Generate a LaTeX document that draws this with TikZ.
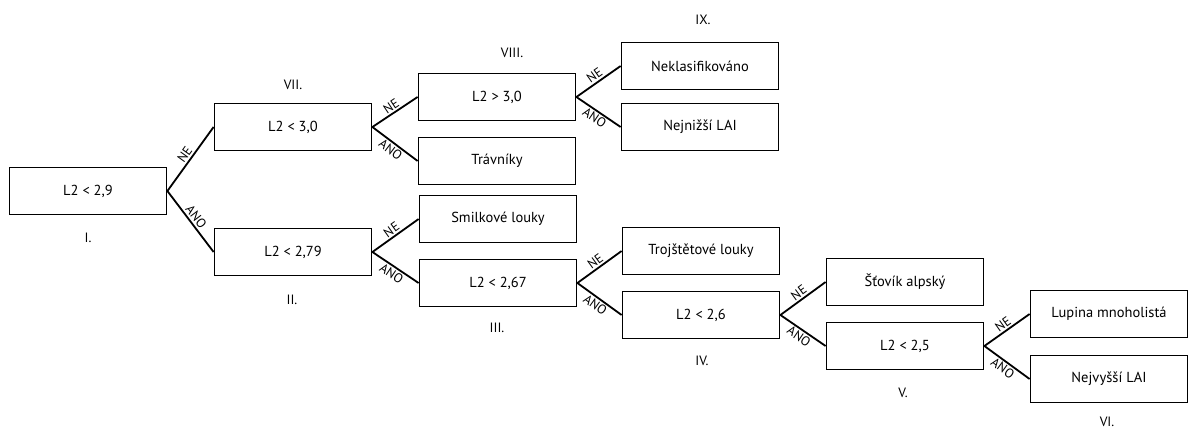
\documentclass[tikz,border=0pt]{standalone}
\usepackage{fontspec}
\setmainfont{PT Sans}

\tikzset{
  rule/.style={draw, line width=1.8pt, minimum width=157pt, minimum height=47pt, inner sep=0pt, font=\fontsize{14.5}{16}\selectfont},
  tag/.style={font=\fontsize{13.5}{15}\selectfont},
  branch/.style={line width=1.8pt},
  ne/.style={sloped, above, inner sep=1.5pt, font=\fontsize{13}{14}\selectfont},
  ano/.style={sloped, below, inner sep=1.5pt, font=\fontsize{13}{14}\selectfont},
}

\begin{document}
\begin{tikzpicture}[x=1pt, y=-1pt]
    \useasboundingbox (0,0) rectangle (1190,433);
    % rozhodovaci uzly
    \node[rule] (r1) at (88,191) {L2 < 2,9};
    \node[rule] (r7) at (293,127) {L2 < 3,0};
    \node[rule] (r2) at (293,252) {L2 < 2,79};
    \node[rule] (r8) at (497,97) {L2 > 3,0};
    \node[rule] (trav) at (497,161) {Trávníky};
    \node[rule] (smilk) at (498,219) {Smilkové louky};
    \node[rule] (r3) at (498,283) {L2 < 2,67};
    \node[rule] (nekl) at (700,66) {Neklasifikováno};
    \node[rule] (lowlai) at (700,127) {Nejnižší LAI};
    \node[rule] (troj) at (701,251) {Trojštětové louky};
    \node[rule] (r4) at (701,315) {L2 < 2,6};
    \node[rule] (stov) at (905,282) {Šťovík alpský};
    \node[rule] (r5) at (905,346) {L2 < 2,5};
    \node[rule] (lup) at (1109,314) {Lupina mnoholistá};
    \node[rule] (highlai) at (1109,379) {Nejvyšší LAI};
    % cisla uzlu
    \node[tag] (t1) at (88,238) {I.};
    \node[tag] (t2) at (292,300) {II.};
    \node[tag] (t3) at (497,328) {III.};
    \node[tag] (t4) at (702,361) {IV.};
    \node[tag] (t5) at (903,393) {V.};
    \node[tag] (t6) at (1107,422) {VI.};
    \node[tag] (t7) at (293,85) {VII.};
    \node[tag] (t8) at (512,53) {VIII.};
    \node[tag] (t9) at (703,20) {IX.};
    % vetve
    \draw[branch] (r1.east) -- node[ne] {NE} (r7.west);
    \draw[branch] (r1.east) -- node[ne] {ANO} (r2.west);
    \draw[branch] (r7.east) -- node[ne] {NE} (r8.west);
    \draw[branch] (r7.east) -- node[ano] {ANO} (trav.west);
    \draw[branch] (r8.east) -- node[ne] {NE} (nekl.west);
    \draw[branch] (r8.east) -- node[ano] {ANO} (lowlai.west);
    \draw[branch] (r2.east) -- node[ne] {NE} (smilk.west);
    \draw[branch] (r2.east) -- node[ano] {ANO} (r3.west);
    \draw[branch] (r3.east) -- node[ne] {NE} (troj.west);
    \draw[branch] (r3.east) -- node[ano] {ANO} (r4.west);
    \draw[branch] (r4.east) -- node[ne] {NE} (stov.west);
    \draw[branch] (r4.east) -- node[ano] {ANO} (r5.west);
    \draw[branch] (r5.east) -- node[ne] {NE} (lup.west);
    \draw[branch] (r5.east) -- node[ano] {ANO} (highlai.west);
\end{tikzpicture}
\end{document}
